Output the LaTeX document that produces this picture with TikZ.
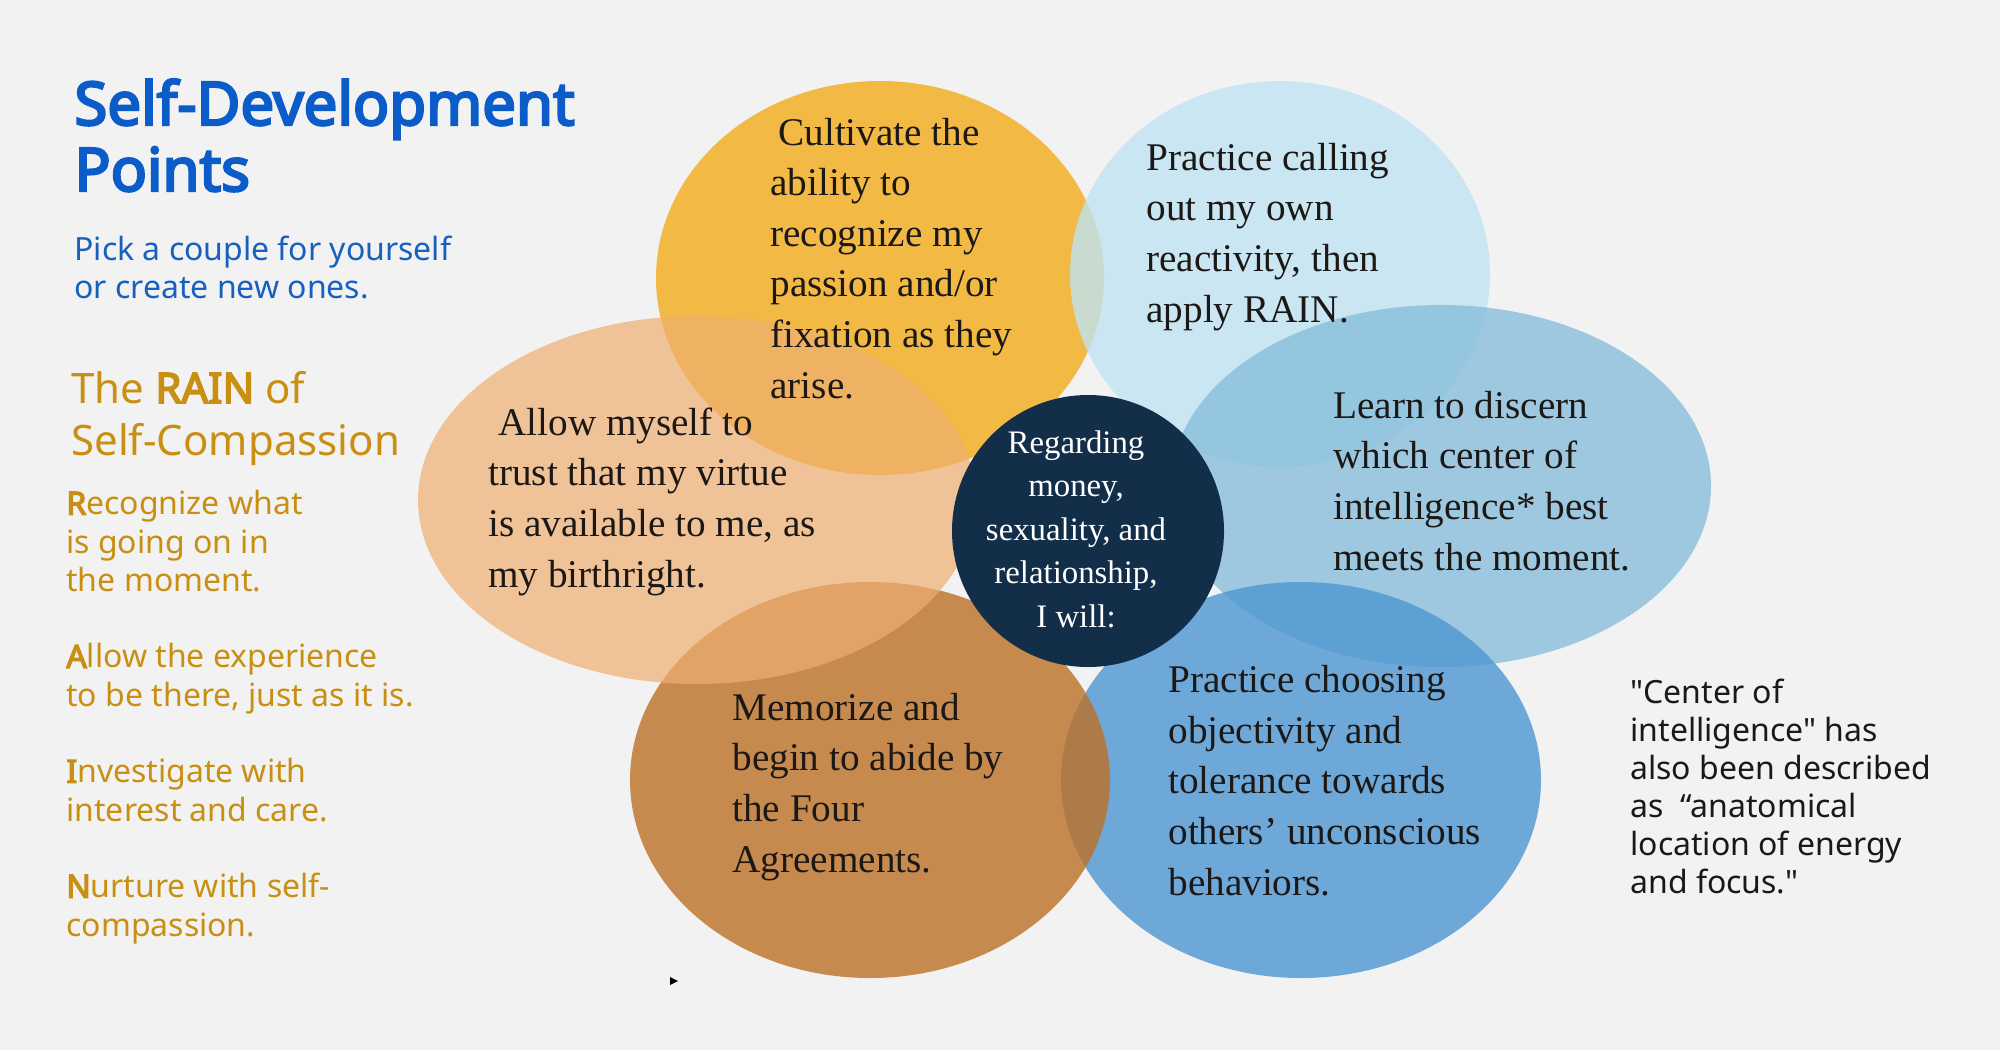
\documentclass[tikz,border=0pt]{standalone}
\usepackage{fontspec}
\setmainfont{Liberation Serif}
\newfontfamily\notosans{Noto Sans}[AutoFakeBold=4]
\usetikzlibrary{shapes.geometric,positioning}

\definecolor{bgGrey}{RGB}{242,242,242}
\definecolor{cYellow}{RGB}{242,171,25}
\definecolor{cSky}{RGB}{191,227,242}
\definecolor{cPeach}{RGB}{238,176,113}
\definecolor{cSteel}{RGB}{136,190,220}
\definecolor{cBrown}{RGB}{188,112,38}
\definecolor{cBlue}{RGB}{78,150,210}
\definecolor{cNavy}{RGB}{19,46,72}
\definecolor{titleBlue}{RGB}{11,92,200}
\definecolor{subBlue}{RGB}{24,96,190}
\definecolor{rainGold}{RGB}{201,143,18}
\definecolor{inkDark}{RGB}{28,24,22}

\begin{document}
\begin{tikzpicture}[x=0.5pt, y=-0.5pt,
  blob/.style={ellipse, inner sep=0pt, outer sep=0pt, fill opacity=0.8},
  point/.style={anchor=base west, align=left, inner sep=0pt, text=inkDark,
    font=\fontsize{19.6}{25.3}\selectfont},
  side/.style={anchor=base west, align=left, inner sep=0pt,
    font=\notosans\fontsize{16}{19}\selectfont}
]
\fill[bgGrey] (0,0) rectangle (2000,1050);
\path[use as bounding box] (0,0) rectangle (2000,1050);

\node[blob, fill=cYellow, minimum width=224pt, minimum height=197pt] (cultivate) at (880,278) {};
\node[blob, fill=cSky, minimum width=210pt, minimum height=193pt] (calling) at (1280,274) {};
\node[blob, fill=cSteel, minimum width=270pt, minimum height=181pt] (discern) at (1441,486) {};
\node[blob, fill=cBlue, minimum width=240pt, minimum height=198pt] (choosing) at (1301,780) {};
\node[blob, fill=cBrown, minimum width=240pt, minimum height=198pt] (memorize) at (870,780) {};
\node[blob, fill=cPeach, fill opacity=0.7, minimum width=279pt, minimum height=184pt] (allow) at (697,500) {};
\node[circle, fill=cNavy, inner sep=0pt, minimum size=136pt] (hub) at (1088,531) {};

% multi-line nodes: the base anchor sits on the last line
\node[point] (tCultivate) at (770,398) {\hspace{4pt}Cultivate the\\ability to\\recognize my\\passion and/or\\fixation as they\\arise.};
\node[point] (tCalling) at (1146,322) {Practice calling\\out my own\\reactivity, then\\apply RAIN.};
\node[point] (tAllow) at (488,587) {\hspace{5pt}Allow myself to\\trust that my virtue\\is available to me, as\\my birthright.};
\node[point] (tDiscern) at (1333,570) {Learn to discern\\which center of\\intelligence* best\\meets the moment.};
\node[point] (tMemorize) at (732,872) {Memorize and\\begin to abide by\\the Four\\Agreements.};
\node[point] (tChoosing) at (1168,895) {Practice choosing\\objectivity and\\tolerance towards\\others’ unconscious\\behaviors.};
\node[anchor=base, align=center, inner sep=0pt, text=white, font=\fontsize{16.4}{21.75}\selectfont]
  (tHub) at (1076,627) {Regarding\\money,\\sexuality, and\\relationship,\\I will:};

\node[side, text=titleBlue, font=\notosans\bfseries\fontsize{30}{33}\selectfont] (title) at (74,191) {Self-Development\\Points};
\node[side, text=subBlue] (subtitle) at (74,298) {Pick a couple for yourself\\or create new ones.};
\node[side, text=rainGold, font=\notosans\fontsize{21}{26}\selectfont] (rainHead) at (71,455) {The \textbf{RAIN} of\\Self-Compassion};
\node[side, text=rainGold, font=\notosans\fontsize{16}{19.15}\selectfont] (rainSteps) at (66,936)
  {\textbf{R}ecognize what\\is going on in\\the moment.\\[19.15pt]
   \textbf{A}llow the experience\\to be there, just as it is.\\[19.15pt]
   \textbf{I}nvestigate with\\interest and care.\\[19.15pt]
   \textbf{N}urture with self-\\compassion.};
\node[side, text=inkDark] (note) at (1630,893) {"Center of\\intelligence" has\\also been described\\as~~“anatomical\\location of energy\\and focus."};

\fill[black] (670,977) -- (678,981) -- (670,985) -- cycle;
\end{tikzpicture}
\end{document}
